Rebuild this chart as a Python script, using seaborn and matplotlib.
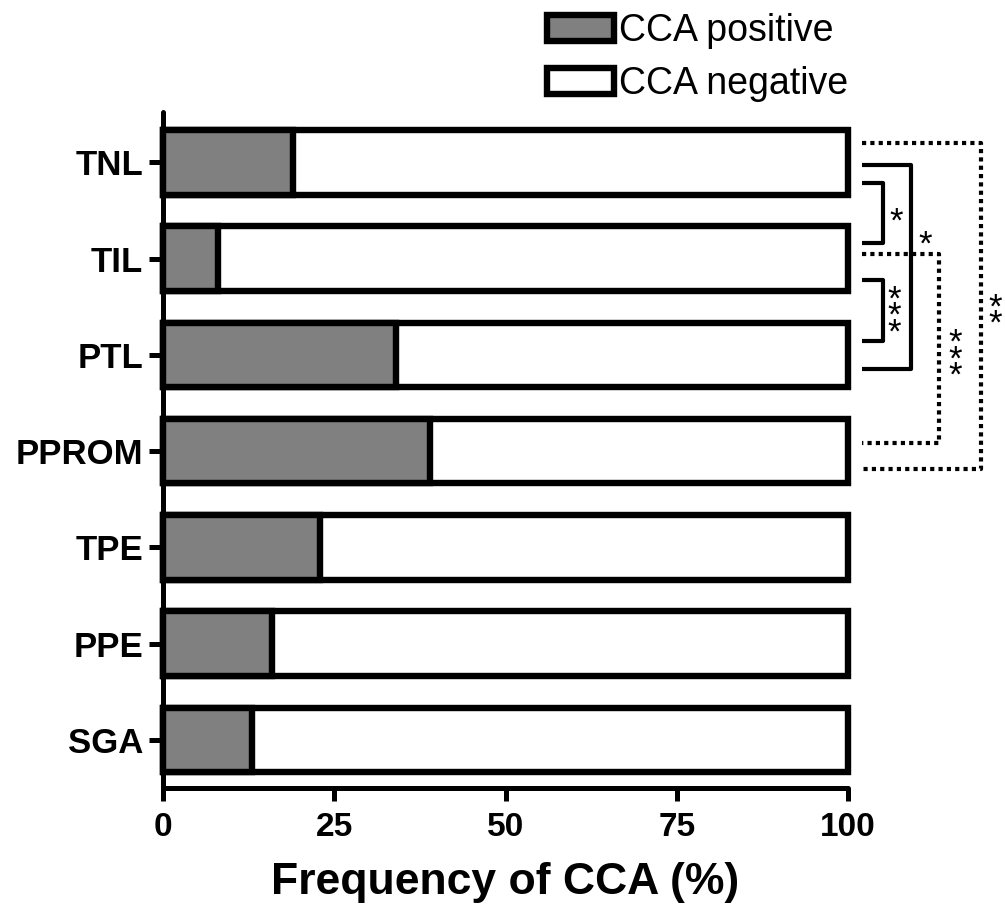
import matplotlib
matplotlib.use('Agg')
import matplotlib.pyplot as plt
import seaborn as sns
import pandas as pd
from matplotlib.patches import Patch

# ---- data ----
categories = ['TNL', 'TIL', 'PTL', 'PPROM', 'TPE', 'PPE', 'SGA']
cca_positive = [19, 8, 34, 39, 23, 16, 13]
cca_total = [100, 100, 100, 100, 100, 100, 100]
xtick_values = [0, 25, 50, 75, 100]
legend_labels = ['CCA positive', 'CCA negative']

# significance comparisons
comp_labels = ['*', '***', '*', '***', '**']
comp_styles = ['solid', 'solid', 'solid', 'dotted', 'dotted']

# bracket geometry (annotation layout)
bracket_y = [(0.21, 0.84), (1.22, 1.86), (0.03, 2.15), (0.95, 2.92), (-0.20, 3.19)]
bracket_x = [105.1, 105.1, 109.2, 113.3, 119.3]
label_pos = [(107.0, 0.62), (106.7, 1.60), (111.2, 0.86), (115.6, 2.05), (121.4, 1.60)]

sns.set_style('white')
plt.rcParams['font.family'] = ['Liberation Sans', 'DejaVu Sans']
plt.rcParams['text.color'] = 'black'
plt.rcParams['axes.labelcolor'] = 'black'
plt.rcParams['xtick.color'] = 'black'
plt.rcParams['ytick.color'] = 'black'

df = pd.DataFrame({'category': categories, 'positive': cca_positive, 'total': cca_total})

fig = plt.figure(figsize=(10.05, 9.13), dpi=100)
ax = fig.add_axes([0.162, 0.137, 0.682, 0.740])

grey = '#808080'
lw_bar = 4.6
lw_axis = 3.6
sns.barplot(data=df, y='category', x='total', color='white', saturation=1,
            edgecolor='black', linewidth=lw_bar, width=0.67, orient='h', ax=ax)
sns.barplot(data=df, y='category', x='positive', color=grey, saturation=1,
            edgecolor='black', linewidth=lw_bar, width=0.67, orient='h', ax=ax)
for p in ax.patches:
    p.set_clip_on(False)

ax.set_xlim(0, 100)
ax.set_ylim(6.5, -0.52)
ax.set_xticks(xtick_values)
ax.set_xticklabels([str(v) for v in xtick_values], fontweight='bold', fontsize=24)
ax.set_yticks(range(len(categories)))
ax.set_yticklabels(categories, fontweight='bold', fontsize=25)
ax.set_ylabel('')
ax.set_xlabel('Frequency of CCA (%)', fontweight='bold', fontsize=32, labelpad=14)

for s in ['top', 'right']:
    ax.spines[s].set_visible(False)
for s in ['left', 'bottom']:
    ax.spines[s].set_linewidth(lw_axis)
    ax.spines[s].set_color('black')
    ax.spines[s].set_capstyle('round')
ax.tick_params(axis='both', direction='out', width=lw_axis, color='black',
               bottom=True, left=True, top=False, right=False)
ax.tick_params(axis='x', length=9, pad=8)
ax.tick_params(axis='y', length=10, pad=4)
for t in ax.xaxis.get_ticklines() + ax.yaxis.get_ticklines():
    t.set_solid_capstyle('round')
ax.grid(False)

# significance brackets
x0 = 102.0
for (y1, y2), xv, lab, sty, (lx, ly) in zip(bracket_y, bracket_x, comp_labels, comp_styles, label_pos):
    if sty == 'dotted':
        kw = dict(color='black', lw=3.0, linestyle=(0, (1, 1)), dash_capstyle='butt')
    else:
        kw = dict(color='black', lw=3.0, linestyle='-', solid_capstyle='butt')
    ax.plot([x0, xv, xv, x0], [y1, y1, y2, y2], clip_on=False, **kw)
    stacked = '\n'.join(lab)
    ax.text(lx, ly, stacked, ha='center', va='center', fontsize=25,
            linespacing=0.36, multialignment='center',
            color='black', clip_on=False)

# legend
handles = [Patch(facecolor=grey, edgecolor='black', linewidth=lw_bar),
           Patch(facecolor='white', edgecolor='black', linewidth=lw_bar)]
fig.legend(handles, legend_labels, loc='upper right',
           bbox_to_anchor=(848 / 1005, 1 - 13 / 913), frameon=False,
           fontsize=27, handlelength=1.8, handleheight=0.68,
           handletextpad=0.13, labelspacing=0.45, borderpad=0, borderaxespad=0)

fig.savefig('out.png', dpi=100)
